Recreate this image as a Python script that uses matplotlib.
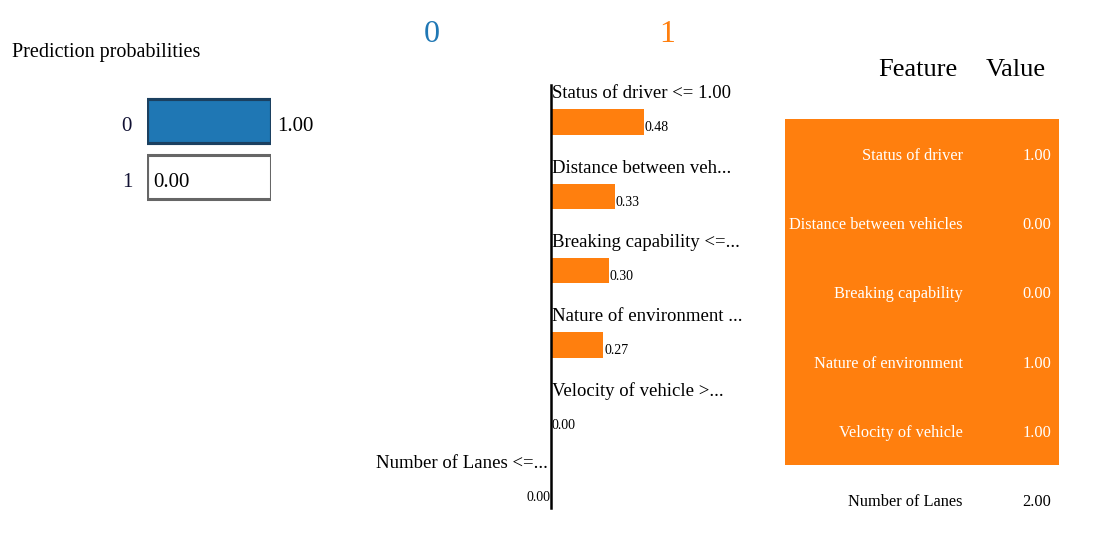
import numpy as np
import matplotlib
matplotlib.use("Agg")
import matplotlib.pyplot as plt

# prediction probabilities
classes = ["0", "1"]
probas = [1.00, 0.00]

# explanation (weights toward the class in `supports`)
exp_labels = ["Status of driver <= 1.00", "Distance between veh...",
              "Breaking capability <=...", "Nature of environment ...",
              "Velocity of vehicle >...", "Number of Lanes <=..."]
exp_weights = [0.48, 0.33, 0.30, 0.27, 0.00, 0.00]
supports = [1, 1, 1, 1, 1, 0]

# feature / value table
tbl_features = ["Status of driver", "Distance between vehicles", "Breaking capability",
                "Nature of environment", "Velocity of vehicle", "Number of Lanes"]
tbl_values = [1.00, 0.00, 0.00, 1.00, 1.00, 2.00]

BLUE = "#1f77b4"
ORANGE = "#ff7f0e"
class_colors = [BLUE, ORANGE]

plt.rcParams["font.family"] = ["Liberation Serif", "DejaVu Serif"]

W, H = 1118, 533
fig = plt.figure(figsize=(W / 100, H / 100), dpi=100)


def box(x0, y0, x1, y1):
    # pixel box (top-left origin) -> figure fraction axes
    return fig.add_axes([x0 / W, 1 - y1 / H, (x1 - x0) / W, (y1 - y0) / H])


# ---- prediction probabilities ----
fig.text(12 / W, 1 - 52 / H, "Prediction probabilities", fontsize=14.5,
         ha="left", va="center")
axp = box(147, 93, 271, 205)
yp = np.arange(len(classes))
edges = ["#1b4060", "#666666"]
axp.barh(yp, probas, height=0.8, color=[BLUE, "white"],
         edgecolor=edges, linewidth=2.2)
axp.barh(yp, [1.0] * len(classes), height=0.8, fill=False,
         edgecolor=edges, linewidth=2.2)
axp.set_xlim(0, 1)
axp.set_ylim(1.5, -0.5)
axp.axis("off")
for i, (c, p) in enumerate(zip(classes, probas)):
    axp.text(-0.12, i + 0.1, c, ha="right", va="center", fontsize=15,
             color="#111133")
    if p > 0.5:
        axp.text(1.05, i + 0.1, f"{p:.2f}", ha="left", va="center", fontsize=15)
    else:
        axp.text(0.05, i + 0.1, f"{p:.2f}", ha="left", va="center", fontsize=15)

# ---- class headers ----
fig.text(432 / W, 1 - 34 / H, classes[0], fontsize=23, color=BLUE,
         ha="center", va="center")
fig.text(667 / W, 1 - 34 / H, classes[1], fontsize=23, color=ORANGE,
         ha="center", va="center")

# ---- explanation bars ----
axe = box(360, 60, 760, 520)
ppu = 193.0
axe.set_xlim(-(551 - 360) / ppu, (760 - 551) / ppu)
axe.set_ylim((520 - 122) / 74.3, (60 - 122) / 74.3)
axe.axis("off")
ye = np.arange(len(exp_labels))
signed = [w if s == 1 else -w for w, s in zip(exp_weights, supports)]
axe.barh(ye, signed, height=0.34, color=[class_colors[s] for s in supports])
axe.plot([0, 0], [-0.5, 5.2], color="black", linewidth=1.8)
for i, (lab, w, s) in enumerate(zip(exp_labels, exp_weights, supports)):
    if s == 1:
        axe.text(0.005, i - 0.38, lab, ha="left", va="center", fontsize=13.5)
        axe.text(w + 0.005, i + 0.08, f"{w:.2f}", ha="left", va="center",
                 fontsize=10)
    else:
        axe.text(-0.015, i - 0.40, lab, ha="right", va="center", fontsize=13.5)
        axe.text(-w - 0.005, i + 0.06, f"{w:.2f}", ha="right", va="center",
                 fontsize=10)

# ---- feature table ----
axt = box(770, 30, 1080, 530)
axt.set_xlim(770, 1080)
axt.set_ylim((530 - 154) / 69.2, (30 - 154) / 69.2)
axt.axis("off")
yt = np.arange(len(tbl_features))
row_colors = [ORANGE if s == 1 else "white" for s in supports]
axt.barh(yt, [1059 - 785] * len(yt), left=785, height=1.0, color=row_colors)
axt.text(957, -1.22, "Feature", ha="right", va="center", fontsize=19)
axt.text(1046, -1.22, "Value", ha="right", va="center", fontsize=19)
for i, (f, v, s) in enumerate(zip(tbl_features, tbl_values, supports)):
    tc = "white" if s == 1 else "black"
    axt.text(963, i + 0.03, f, ha="right", va="center", fontsize=11.8, color=tc)
    axt.text(1051, i + 0.03, f"{v:.2f}", ha="right", va="center", fontsize=11.8,
             color=tc)

fig.savefig("out.png", dpi=100)
